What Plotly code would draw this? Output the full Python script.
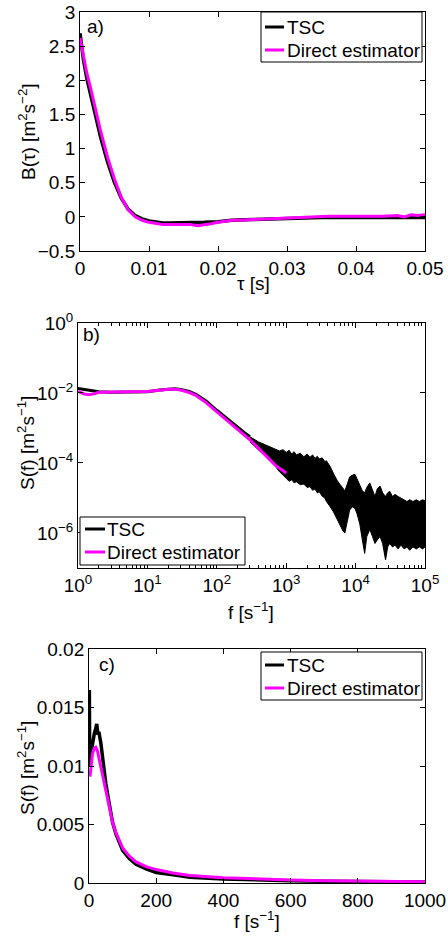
import plotly.graph_objects as go

# ---- panel a: autocorrelation B(tau)
tau_tsc = [0, 0.0005, 0.001, 0.0015, 0.002, 0.003, 0.004, 0.005, 0.006, 0.007, 0.008, 0.009,
           0.010, 0.011, 0.012, 0.013, 0.014, 0.015, 0.016, 0.017, 0.018, 0.020, 0.022, 0.025,
           0.028, 0.030, 0.033, 0.035, 0.038, 0.040, 0.043, 0.045, 0.048, 0.050]
B_tsc = [2.69, 2.30, 2.02, 1.80, 1.58, 1.16, 0.80, 0.50, 0.27, 0.11, 0.02, -0.03,
         -0.06, -0.08, -0.09, -0.09, -0.09, -0.09, -0.09, -0.09, -0.08, -0.07, -0.05, -0.04,
         -0.03, -0.02, -0.015, -0.01, -0.01, -0.01, -0.01, -0.01, -0.012, -0.01]

tau_dir = [0, 0.0005, 0.001, 0.0015, 0.002, 0.003, 0.004, 0.005, 0.006, 0.007, 0.008, 0.009,
           0.010, 0.011, 0.012, 0.013, 0.014, 0.015, 0.016, 0.017, 0.018, 0.019, 0.020, 0.021,
           0.022, 0.023, 0.024, 0.025, 0.027, 0.029, 0.030, 0.032, 0.034, 0.036, 0.038, 0.040,
           0.042, 0.044, 0.046, 0.047, 0.048, 0.049, 0.050]
B_dir = [2.62, 2.33, 2.10, 1.90, 1.68, 1.25, 0.87, 0.55, 0.28, 0.10, 0.0, -0.05,
         -0.08, -0.10, -0.11, -0.11, -0.11, -0.105, -0.11, -0.13, -0.12, -0.10, -0.08, -0.06,
         -0.05, -0.05, -0.04, -0.04, -0.03, -0.02, -0.01, -0.01, 0.0, 0.01, 0.01, 0.01,
         0.0, 0.01, 0.02, 0.0, 0.03, 0.02, 0.03]

# ---- panel b: spectrum, log-log
f_tsc_b = [1, 1.2, 1.5, 2, 3, 5, 7, 10, 15, 20, 25, 30, 40, 50, 70, 100, 150, 200, 250, 300]
S_tsc_b = [0.0135, 0.0128, 0.0118, 0.0108, 0.0104, 0.0105, 0.0106, 0.0109, 0.0121, 0.0130,
           0.0131, 0.0126, 0.0110, 0.0092, 0.0059, 0.0032, 0.00162, 0.0010, 7.3e-4, 5.6e-4]

# noisy high-frequency part of TSC: upper / lower envelope of the band
f_band = [300, 400, 500, 600, 700, 800, 900, 1000, 1100, 1200, 1300, 1400, 1600, 1800, 2000,
          2200, 2400, 2600, 2800, 3000, 3300, 3600, 3800, 4300, 4800, 5400, 6000, 6600, 7000,
          7600, 8200, 9000, 9800, 10500, 11500, 12500, 13500, 14500, 16000, 17500, 19000,
          20500, 22500, 24500, 27000, 29000, 31000, 34000, 37000, 41000, 45000, 50000, 55000,
          60000, 67000, 75000, 83000, 92000, 100000]
S_band_hi = [5.6e-4, 4.0e-4, 3.3e-4, 2.8e-4, 2.4e-4, 2.2e-4, 2.4e-4, 2.0e-4, 2.3e-4, 1.8e-4,
             2.1e-4, 1.7e-4, 1.9e-4, 1.5e-4, 1.8e-4, 1.45e-4, 1.7e-4, 1.35e-4, 1.55e-4, 1.3e-4,
             1.4e-4, 1.1e-4, 1.15e-4, 7.9e-5, 5.0e-5, 3.2e-5, 2.4e-5, 1.8e-5, 1.6e-5, 2.5e-5,
             4.0e-5, 4.5e-5, 4.7e-5, 3.5e-5, 2.2e-5, 1.6e-5, 1.4e-5, 2.0e-5, 2.7e-5, 1.8e-5,
             1.1e-5, 1.8e-5, 2.2e-5, 1.4e-5, 1.1e-5, 1.4e-5, 1.55e-5, 1.1e-5, 1.26e-5, 1.1e-5,
             1.0e-5, 8.9e-6, 7.9e-6, 8.9e-6, 7.9e-6, 8.9e-6, 7.9e-6, 8.9e-6, 8.3e-6]
S_band_lo = [4.0e-4, 2.4e-4, 1.58e-4, 1.12e-4, 7.9e-5, 5.6e-5, 4.5e-5, 3.5e-5, 3.0e-5, 3.3e-5,
             2.7e-5, 2.9e-5, 2.4e-5, 2.5e-5, 2.0e-5, 2.1e-5, 1.66e-5, 1.8e-5, 1.4e-5, 1.5e-5,
             1.12e-5, 1.0e-5, 7.9e-6, 5.6e-6, 4.0e-6, 2.5e-6, 1.6e-6, 1.12e-6, 1.0e-6, 2.0e-6,
             4.5e-6, 5.6e-6, 5.0e-6, 3.5e-6, 1.8e-6, 6.3e-7, 2.6e-7, 7.9e-7, 1.26e-6, 7.9e-7,
             5.0e-7, 6.3e-7, 7.9e-7, 5.0e-7, 1.7e-7, 4.0e-7, 5.0e-7, 4.0e-7, 4.5e-7, 3.5e-7,
             4.5e-7, 3.5e-7, 4.0e-7, 3.2e-7, 4.0e-7, 3.5e-7, 4.0e-7, 3.5e-7, 4.0e-7]

f_dir_b = [1, 1.2, 1.4, 1.7, 2, 3, 5, 7, 10, 15, 20, 25, 30, 40, 50, 70, 100, 150, 200, 300,
           400, 500, 700, 850, 1000]
S_dir_b = [0.0110, 0.0095, 0.0089, 0.0094, 0.0104, 0.0105, 0.0105, 0.0107, 0.0110, 0.0120,
           0.0128, 0.0127, 0.0121, 0.0103, 0.0085, 0.0053, 0.0029, 0.00146, 0.0009, 4.6e-4,
           2.6e-4, 1.7e-4, 8.5e-5, 6.5e-5, 5.2e-5]

# ---- panel c: spectrum, linear
f_tsc_c = [0, 1, 2, 4, 8, 12, 16, 20, 23, 26, 30, 35, 40, 50, 60, 70, 80, 90, 100, 120, 140,
           170, 200, 250, 300, 400, 500, 600, 700, 800, 900, 1000]
S_tsc_c = [0.0100, 0.0165, 0.0105, 0.0108, 0.0115, 0.0125, 0.0128, 0.0132, 0.0136, 0.0128,
           0.0128, 0.0120, 0.0108, 0.0085, 0.0068, 0.0052, 0.0042, 0.0034, 0.0028, 0.0021,
           0.0016, 0.0012, 0.0009, 0.0007, 0.0005, 0.00035, 0.00025, 0.0002, 0.00015, 0.00012,
           0.0001, 0.00008]

f_dir_c = [3, 6, 10, 15, 20, 25, 30, 40, 50, 60, 70, 80, 90, 100, 120, 140, 170, 200, 250,
           300, 400, 500, 600, 700, 800, 900, 1000]
S_dir_c = [0.0091, 0.0102, 0.0110, 0.0115, 0.0116, 0.0113, 0.0106, 0.0093, 0.0079, 0.0064,
           0.0052, 0.0043, 0.0036, 0.0030, 0.0023, 0.0018, 0.0014, 0.00115, 0.00085, 0.00065,
           0.00045, 0.00033, 0.00026, 0.0002, 0.00016, 0.00013, 0.0001]

series_names = ["TSC", "Direct estimator"]
panel_labels = ["a)", "b)", "c)"]

log_tickvals_x = [1, 10, 100, 1000, 10000, 100000]
log_ticktext_x = ["10<sup>0</sup>", "10<sup>1</sup>", "10<sup>2</sup>",
                  "10<sup>3</sup>", "10<sup>4</sup>", "10<sup>5</sup>"]
log_tickvals_y = [1e-6, 1e-4, 1e-2, 1]
log_ticktext_y = ["10<sup>−6</sup>", "10<sup>−4</sup>", "10<sup>−2</sup>", "10<sup>0</sup>"]

BLACK = "black"
MAGENTA = "#ff00ff"
FONT = "Liberation Sans, Arial, sans-serif"
FS = 19
W, H = 448, 938


def px(x, y):
    # pixel position -> paper coordinates
    return x / W, 1 - y / H


fig = go.Figure()

# a)
fig.add_trace(go.Scatter(x=tau_tsc, y=B_tsc, mode="lines", name=series_names[0],
                         line=dict(color=BLACK, width=3.5), xaxis="x", yaxis="y"))
fig.add_trace(go.Scatter(x=tau_dir, y=B_dir, mode="lines", name=series_names[1],
                         line=dict(color=MAGENTA, width=3), xaxis="x", yaxis="y"))

# b)
fig.add_trace(go.Scatter(x=f_band, y=S_band_lo, mode="lines", name=series_names[0],
                         line=dict(color=BLACK, width=1), xaxis="x2", yaxis="y2",
                         hoverinfo="skip"))
fig.add_trace(go.Scatter(x=f_band, y=S_band_hi, mode="lines", name=series_names[0],
                         line=dict(color=BLACK, width=1), fill="tonexty", fillcolor=BLACK,
                         xaxis="x2", yaxis="y2", hoverinfo="skip"))
fig.add_trace(go.Scatter(x=f_tsc_b, y=S_tsc_b, mode="lines", name=series_names[0],
                         line=dict(color=BLACK, width=3), xaxis="x2", yaxis="y2"))
fig.add_trace(go.Scatter(x=f_dir_b, y=S_dir_b, mode="lines", name=series_names[1],
                         line=dict(color=MAGENTA, width=3), xaxis="x2", yaxis="y2"))

# c)
fig.add_trace(go.Scatter(x=f_tsc_c, y=S_tsc_c, mode="lines", name=series_names[0],
                         line=dict(color=BLACK, width=3.5), xaxis="x3", yaxis="y3"))
fig.add_trace(go.Scatter(x=f_dir_c, y=S_dir_c, mode="lines", name=series_names[1],
                         line=dict(color=MAGENTA, width=3), xaxis="x3", yaxis="y3"))

axis_common = dict(showline=True, linecolor="black", linewidth=1, mirror="ticks",
                   ticks="inside", ticklen=5, tickcolor="black", showgrid=False,
                   zeroline=False, automargin=False,
                   tickfont=dict(size=FS, color="black"))

# MATLAB-style legend boxes, drawn in pixel positions: box (x0, y0, x1, y1),
# sample line x-range, row centres, text start
legend_boxes = [
    dict(box=(261, 12, 422, 62), line_x=(265, 284), rows=(27, 50), text_x=285),
    dict(box=(80, 517, 245, 565), line_x=(85, 105), rows=(529, 552), text_x=105),
    dict(box=(261, 652, 422, 700), line_x=(265, 284), rows=(665, 688), text_x=285),
]

shapes = []
annotations = []
for lg in legend_boxes:
    x0, y0, x1, y1 = lg["box"]
    px0, py0 = px(x0, y0)
    px1, py1 = px(x1, y1)
    shapes.append(dict(type="rect", xref="paper", yref="paper", x0=px0, x1=px1, y0=py1, y1=py0,
                       line=dict(color="black", width=1), fillcolor="white", layer="above"))
    for name, color, ry in zip(series_names, [BLACK, MAGENTA], lg["rows"]):
        lx0, ly = px(lg["line_x"][0], ry)
        lx1, _ = px(lg["line_x"][1], ry)
        shapes.append(dict(type="line", xref="paper", yref="paper", x0=lx0, x1=lx1, y0=ly, y1=ly,
                           line=dict(color=color, width=3), layer="above"))
        tx, ty = px(lg["text_x"], ry)
        annotations.append(dict(text=name, x=tx, y=ty, xref="paper", yref="paper",
                                xanchor="left", yanchor="middle", showarrow=False,
                                font=dict(size=FS, color="black")))

# panel letters
for lab, (cx, cy) in zip(panel_labels, [(95, 26), (91, 334), (107, 664)]):
    tx, ty = px(cx, cy)
    annotations.append(dict(text=lab, x=tx, y=ty, xref="paper", yref="paper", xanchor="center",
                            yanchor="middle", showarrow=False, font=dict(size=FS)))

# axis titles
x_titles = [("τ [s]", 253, 283), ("f [s<sup>−1</sup>]", 251, 611), ("f [s<sup>−1</sup>]", 257, 920)]
y_titles = [("B(τ) [m<sup>2</sup>s<sup>−2</sup>]", 27, 132),
            ("S(f) [m<sup>2</sup>s<sup>−1</sup>]", 26, 443),
            ("S(f) [m<sup>2</sup>s<sup>−1</sup>]", 26, 768)]
for text, cx, cy in x_titles:
    tx, ty = px(cx, cy)
    annotations.append(dict(text=text, x=tx, y=ty, xref="paper", yref="paper", xanchor="center",
                            yanchor="middle", showarrow=False, font=dict(size=FS)))
for text, cx, cy in y_titles:
    tx, ty = px(cx, cy)
    annotations.append(dict(text=text, x=tx, y=ty, xref="paper", yref="paper", xanchor="center",
                            yanchor="middle", textangle=-90, showarrow=False,
                            font=dict(size=FS)))

fig.update_layout(
    width=W, height=H,
    margin=dict(l=0, r=0, t=0, b=0, autoexpand=False),
    paper_bgcolor="white", plot_bgcolor="white",
    font=dict(family=FONT, size=FS, color="black"),
    showlegend=False,
    xaxis=dict(axis_common, domain=[0.1786, 0.9487], anchor="y", range=[0, 0.05],
               tickvals=[0, 0.01, 0.02, 0.03, 0.04, 0.05]),
    yaxis=dict(axis_common, domain=[0.7324, 0.9872], anchor="x", range=[-0.5, 3], dtick=0.5),
    xaxis2=dict(axis_common, domain=[0.1741, 0.9487], anchor="y2", type="log", range=[0, 5],
                tickvals=log_tickvals_x, ticktext=log_ticktext_x,
                minor=dict(ticks="inside", ticklen=3, tickcolor="black",
                           tickvals=[m * 10 ** d for d in range(5) for m in range(2, 10)])),
    yaxis2=dict(axis_common, domain=[0.3945, 0.6557], anchor="x2", type="log", range=[-7, 0],
                tickvals=log_tickvals_y, ticktext=log_ticktext_y),
    xaxis3=dict(axis_common, domain=[0.1987, 0.9487], anchor="y3", range=[0, 1000], dtick=200),
    yaxis3=dict(axis_common, domain=[0.0586, 0.3081], anchor="x3", range=[0, 0.02], dtick=0.005),
    shapes=shapes,
    annotations=annotations,
)

# the page's default 8px body margin would push the 448x938 figure off the window
fig.write_html("out.html", config={"displayModeBar": False},
               post_script="document.body.style.margin='0';document.body.style.overflow='hidden';")
